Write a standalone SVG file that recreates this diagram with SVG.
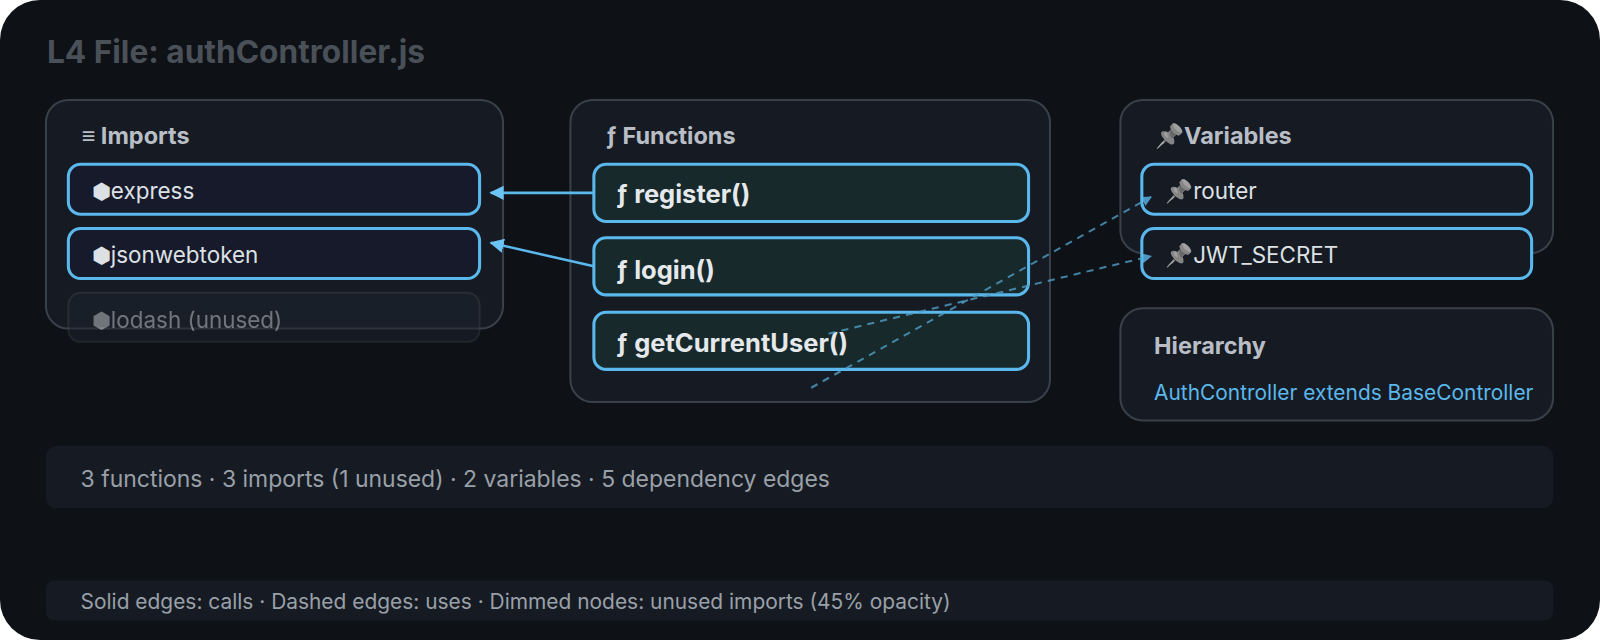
<svg xmlns="http://www.w3.org/2000/svg" width="1600" height="640" viewBox="0 0 1600 640">
<defs>
<marker id="ah" viewBox="0 0 10 10" refX="9" refY="5" markerWidth="10" markerHeight="10" markerUnits="userSpaceOnUse" orient="auto"><path d="M0,0L10,5L0,10z" fill="#5ab8ec"/></marker>
<marker id="ah2" viewBox="0 0 10 10" refX="9" refY="5" markerWidth="14" markerHeight="14" markerUnits="userSpaceOnUse" orient="auto"><path d="M0,0L10,5L0,10z" fill="#6cc4f4"/></marker>
<filter id="gray"><feColorMatrix type="saturate" values="0"/></filter>
</defs>
<style>
text{font-family:"Inter","Liberation Sans",sans-serif}
.panel{fill:#161b23;stroke:#3a4049;stroke-width:2}
.imp{fill:#171a2a;stroke:#5ab8ec;stroke-width:3}
.fn{fill:#17292b;stroke:#5ab8ec;stroke-width:3}
.var{fill:#161b23;stroke:#5ab8ec;stroke-width:3}
.ph{fill:#b9bec6;font-size:23px;font-weight:700}
.it{fill:#dde1e6;font-size:22px}
.ft{fill:#e6e9ec;font-size:25px;font-weight:700}
.pin{filter:url(#gray)}
</style>
<rect x="0" y="0" width="1600" height="640" rx="40" fill="#0e1116"/>
<g transform="scale(1.0204)">
<text x="46" y="62" fill="#4a5058" font-size="31" font-weight="700">L4 File: authController.js</text>
<g id="imports">
<rect class="panel" x="45" y="98" width="448" height="224" rx="22"/>
<text class="ph" x="80" y="141">≡ Imports</text>
</g>
<g id="functions">
<rect class="panel" x="559" y="98" width="470" height="296" rx="22"/>
<text class="ph" x="594" y="141">ƒ Functions</text>
</g>
<g id="variables">
<rect class="panel" x="1098" y="98" width="424" height="150" rx="22"/>
<text class="ph" x="1132" y="141"><tspan class="pin">📌</tspan>Variables</text>
</g>
<g id="express"><rect class="imp" x="67" y="161" width="403" height="49" rx="12"/><text class="it" x="90" y="195">⬢express</text></g>
<g id="jsonwebtoken"><rect class="imp" x="67" y="224" width="403" height="49" rx="12"/><text class="it" x="90" y="258">⬢jsonwebtoken</text></g>
<g id="lodash" opacity="0.45"><rect x="67" y="287" width="403" height="48" rx="12" fill="#1e2430" stroke="#3a4049" stroke-width="2"/><text class="it" x="90" y="321">⬢lodash (unused)</text></g>
<g id="register"><rect class="fn" x="582" y="161" width="426" height="56" rx="12"/><text class="ft" x="604" y="199">ƒ register()</text></g>
<g id="login"><rect class="fn" x="582" y="233" width="426" height="56" rx="12"/><text class="ft" x="604" y="273">ƒ login()</text></g>
<g id="getCurrentUser"><rect class="fn" x="582" y="306" width="426" height="56" rx="12"/><text class="ft" x="604" y="345">ƒ getCurrentUser()</text></g>
<g id="router"><rect class="var" x="1119" y="161" width="382" height="49" rx="12"/><text class="it" x="1142" y="195"><tspan class="pin">📌</tspan>router</text></g>
<g id="JWT_SECRET"><rect class="var" x="1119" y="224" width="382" height="49" rx="12"/><text class="it" x="1142" y="258"><tspan class="pin">📌</tspan>JWT_SECRET</text></g>
<g id="hierarchy">
<rect class="panel" x="1098" y="302" width="424" height="110" rx="22"/>
<text class="ph" x="1131" y="347" font-size="22">Hierarchy</text>
<text x="1131" y="392" fill="#5ab8ec" font-size="20.5">AuthController extends BaseController</text>
</g>
<g id="edges">
<line x1="582" y1="189" x2="481" y2="189" stroke="#5ab8ec" stroke-width="2.5" marker-end="url(#ah2)"/>
<line x1="582" y1="261" x2="481" y2="238" stroke="#5ab8ec" stroke-width="2.5" marker-end="url(#ah2)"/>
<line x1="795" y1="380" x2="1128" y2="193" stroke="#4f9ec4" stroke-width="2" stroke-dasharray="7 6" opacity="0.8" marker-end="url(#ah)"/>
<line x1="812" y1="327" x2="1128" y2="251" stroke="#4f9ec4" stroke-width="2" stroke-dasharray="7 6" opacity="0.8" marker-end="url(#ah)"/>
</g>
<g id="summary">
<rect x="45" y="437" width="1477" height="61" rx="10" fill="#161b23"/>
<text x="79" y="477" fill="#9aa0a8" font-size="22.5">3 functions · 3 imports (1 unused) · 2 variables · 5 dependency edges</text>
</g>
<g id="legend">
<rect x="45" y="569" width="1477" height="39" rx="8" fill="#161b23"/>
<text x="79" y="597" fill="#9aa0a8" font-size="20.5">Solid edges: calls · Dashed edges: uses · Dimmed nodes: unused imports (45% opacity)</text>
</g>
</g>
</svg>
